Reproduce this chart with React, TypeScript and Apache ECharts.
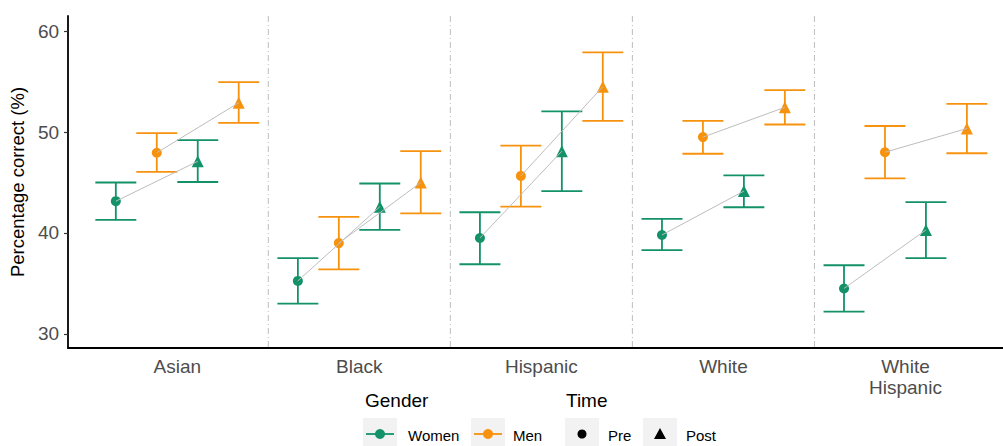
import React, { useEffect, useRef } from "react";
import * as echarts from "echarts";

const races = ["Asian", "Black", "Hispanic", "White", "White\nHispanic"];
const yTicks = [30, 40, 50, 60];
const dividers = [1.5, 2.5, 3.5, 4.5];

const womenPre = [43.15, 35.25, 39.5, 39.8, 34.5];
const womenPreLow = [41.3, 33.0, 36.9, 38.3, 32.2];
const womenPreHigh = [45.0, 37.5, 42.05, 41.4, 36.8];

const menPre = [47.95, 39.0, 45.65, 49.5, 48.0];
const menPreLow = [46.05, 36.4, 42.6, 47.85, 45.4];
const menPreHigh = [49.9, 41.6, 48.65, 51.1, 50.6];

const womenPost = [47.1, 42.6, 48.1, 44.15, 40.3];
const womenPostLow = [45.05, 40.3, 44.15, 42.55, 37.5];
const womenPostHigh = [49.2, 44.9, 52.05, 45.7, 43.05];

const menPost = [52.9, 45.0, 54.5, 52.45, 50.35];
const menPostLow = [50.9, 41.95, 51.1, 50.75, 47.9];
const menPostHigh = [54.95, 48.1, 57.9, 54.15, 52.8];

const GREEN = "#139269";
const ORANGE = "#F7920F";
const FONT = "'Liberation Sans', Arial, Helvetica, sans-serif";

// dodge offsets (position_dodge 0.9 with 4 groups)
const OFF = { wPre: -0.3375, mPre: -0.1125, wPost: 0.1125, mPost: 0.3375 };
const CAP = 0.225;

function errData(off: number, low: number[], high: number[]) {
  return races.map((_, i) => [i + 1 + off, low[i], high[i]]);
}
function ptData(off: number, vals: number[]) {
  return races.map((_, i) => [i + 1 + off, vals[i]]);
}
function connData(offA: number, a: number[], offB: number, b: number[]) {
  return races.map((_, i) => [i + 1 + offA, a[i], i + 1 + offB, b[i]]);
}

function errSeries(name: string, color: string, data: number[][]) {
  return {
    type: "custom",
    name,
    data,
    encode: { x: 0, y: [1, 2] },
    z: 2,
    renderItem: (params: any, api: any) => {
      const x = api.value(0);
      const lo = api.coord([x, api.value(1)]);
      const hi = api.coord([x, api.value(2)]);
      const left = api.coord([x - CAP / 2, api.value(1)])[0];
      const right = api.coord([x + CAP / 2, api.value(1)])[0];
      const style = { stroke: color, lineWidth: 1.8 };
      return {
        type: "group",
        children: [
          { type: "line", shape: { x1: lo[0], y1: lo[1], x2: hi[0], y2: hi[1] }, style },
          { type: "line", shape: { x1: left, y1: lo[1], x2: right, y2: lo[1] }, style },
          { type: "line", shape: { x1: left, y1: hi[1], x2: right, y2: hi[1] }, style },
        ],
      };
    },
  };
}

function connSeries(data: number[][]) {
  return {
    type: "custom",
    data,
    encode: { x: [0, 2], y: [1, 3] },
    z: 4,
    renderItem: (params: any, api: any) => {
      const a = api.coord([api.value(0), api.value(1)]);
      const b = api.coord([api.value(2), api.value(3)]);
      return {
        type: "line",
        shape: { x1: a[0], y1: a[1], x2: b[0], y2: b[1] },
        style: { stroke: "#BDBDBD", lineWidth: 1 },
      };
    },
  };
}

function ptSeries(color: string, symbol: string, size: number, data: number[][]) {
  return {
    type: "scatter",
    data,
    symbol,
    symbolSize: size,
    itemStyle: { color, opacity: 1 },
    z: 3,
  };
}

export default function App() {
  const ref = useRef<HTMLDivElement>(null);
  useEffect(() => {
    if (!ref.current) return;
    const chart = echarts.init(ref.current, undefined, { renderer: "svg" });
    const plotLeft = 67;
    const unit = 182.25;
    const xMin = 0.4;
    const xMax = xMin + (1003 - plotLeft) / unit;

    const legendText = (x: number, y: number, text: string, size: number) => ({
      type: "text",
      x,
      y,
      style: { text, fontSize: size, fontFamily: FONT, fill: "#000", verticalAlign: "middle", align: "left" },
    });
    const keyRect = (x: number) => ({
      type: "rect",
      shape: { x, y: 418, width: 34, height: 34 },
      style: { fill: "#F2F2F2" },
    });

    chart.setOption({
      animation: false,
      backgroundColor: "#fff",
      grid: { left: plotLeft, top: 16, right: 0, bottom: 446 - 348 },
      xAxis: {
        type: "value",
        min: xMin,
        max: xMax,
        splitLine: { show: false },
        axisLine: { show: true, onZero: false, lineStyle: { color: "#000", width: 1.8 } },
        axisTick: { show: false },
        axisLabel: {
          customValues: [1, 2, 3, 4, 5],
          formatter: (v: number) => races[Math.round(v) - 1] ?? "",
          fontSize: 19,
          fontFamily: FONT,
          color: "#4D4D4D",
          margin: 8,
          lineHeight: 21,
          showMinLabel: true,
          showMaxLabel: true,
        },
      },
      yAxis: {
        type: "value",
        min: 28.6,
        max: 61.5,
        name: "Percentage correct (%)",
        nameLocation: "middle",
        nameGap: 40,
        nameRotate: 90,
        nameTextStyle: { fontSize: 18.5, fontFamily: FONT, color: "#000" },
        splitLine: { show: false },
        axisLine: { show: true, onZero: false, lineStyle: { color: "#000", width: 1.8 } },
        axisTick: { show: true, customValues: yTicks, length: 4, lineStyle: { color: "#333", width: 1.2 } },
        axisLabel: {
          customValues: yTicks,
          fontSize: 19,
          fontFamily: FONT,
          color: "#4D4D4D",
          margin: 9,
        },
      },
      series: [
        {
          type: "custom",
          data: dividers.map((d) => [d]),
          encode: { x: 0 },
          z: 1,
          renderItem: (params: any, api: any) => {
            const x = api.coord([api.value(0), 40])[0];
            const cs = params.coordSys;
            return {
              type: "line",
              shape: { x1: x, y1: cs.y, x2: x, y2: cs.y + cs.height },
              style: { stroke: "#BEBEBE", lineWidth: 1, lineDash: [6, 3, 1, 3] },
            };
          },
        },
        errSeries("wPre", GREEN, errData(OFF.wPre, womenPreLow, womenPreHigh)),
        errSeries("mPre", ORANGE, errData(OFF.mPre, menPreLow, menPreHigh)),
        errSeries("wPost", GREEN, errData(OFF.wPost, womenPostLow, womenPostHigh)),
        errSeries("mPost", ORANGE, errData(OFF.mPost, menPostLow, menPostHigh)),
        ptSeries(GREEN, "circle", 10, ptData(OFF.wPre, womenPre)),
        ptSeries(ORANGE, "circle", 10, ptData(OFF.mPre, menPre)),
        ptSeries(GREEN, "triangle", 12, ptData(OFF.wPost, womenPost)),
        ptSeries(ORANGE, "triangle", 12, ptData(OFF.mPost, menPost)),
        connSeries(connData(OFF.wPre, womenPre, OFF.wPost, womenPost)),
        connSeries(connData(OFF.mPre, menPre, OFF.mPost, menPost)),
      ],
      graphic: [
        legendText(365, 400, "Gender", 19),
        keyRect(363),
        { type: "line", shape: { x1: 366, y1: 434, x2: 394, y2: 434 }, style: { stroke: GREEN, lineWidth: 1.8 } },
        { type: "circle", shape: { cx: 380, cy: 434, r: 5 }, style: { fill: GREEN } },
        legendText(408, 435, "Women", 15),
        keyRect(471),
        { type: "line", shape: { x1: 474, y1: 434, x2: 502, y2: 434 }, style: { stroke: ORANGE, lineWidth: 1.8 } },
        { type: "circle", shape: { cx: 488, cy: 434, r: 5 }, style: { fill: ORANGE } },
        legendText(513, 435, "Men", 15),
        legendText(566, 400, "Time", 19),
        keyRect(565),
        { type: "circle", shape: { cx: 582, cy: 434, r: 4.5 }, style: { fill: "#000" } },
        legendText(608, 435, "Pre", 15),
        keyRect(643),
        { type: "polygon", shape: { points: [[660, 428], [666, 439], [654, 439]] }, style: { fill: "#000" } },
        legendText(686, 435, "Post", 15),
      ],
    });
    return () => chart.dispose();
  }, []);
  return (
    <div
      ref={ref}
      style={{ position: "fixed", left: 0, top: 0, width: 1003, height: 446, background: "#fff" }}
    />
  );
}
